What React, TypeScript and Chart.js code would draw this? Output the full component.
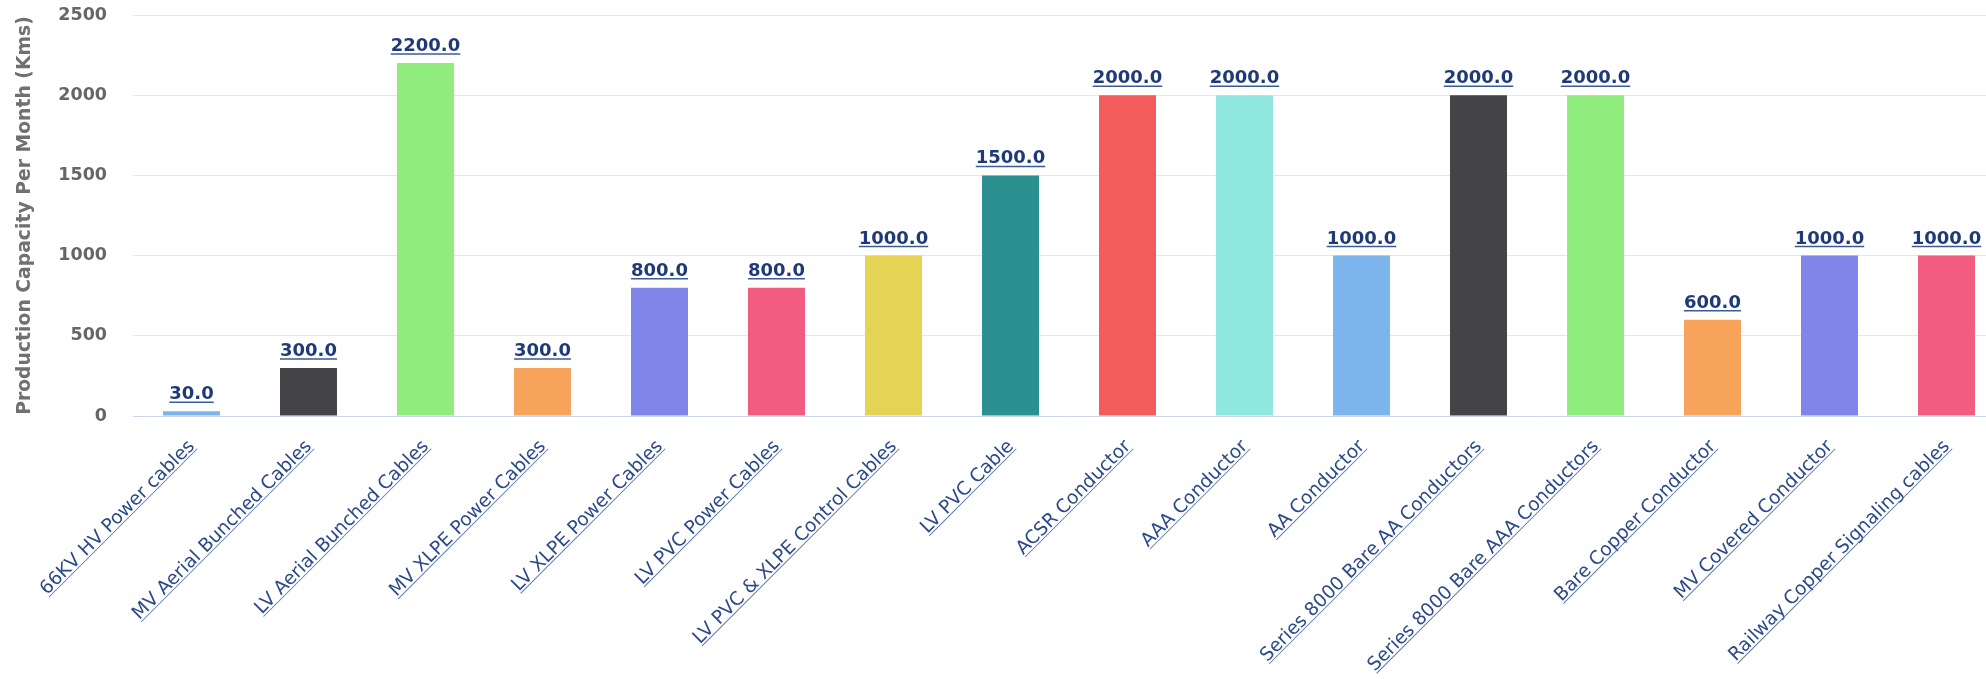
import React, { useEffect, useRef } from "react";
import { Chart, registerables } from "chart.js";

Chart.register(...registerables);

const categories = [
  "66KV HV Power cables",
  "MV Aerial Bunched Cables",
  "LV Aerial Bunched Cables",
  "MV XLPE Power Cables",
  "LV XLPE Power Cables",
  "LV PVC Power Cables",
  "LV PVC & XLPE Control Cables",
  "LV PVC Cable",
  "ACSR Conductor",
  "AAA Conductor",
  "AA Conductor",
  "Series 8000 Bare AA Conductors",
  "Series 8000 Bare AAA Conductors",
  "Bare Copper Conductor",
  "MV Covered Conductor",
  "Railway Copper Signaling cables",
];

const capacities = [30, 300, 2200, 300, 800, 800, 1000, 1500, 2000, 2000, 1000, 2000, 2000, 600, 1000, 1000];

const barColors = [
  "#7cb5ec", "#434348", "#90ed7d", "#f7a35c", "#8085e9", "#f15c80", "#e4d354", "#2b908f",
  "#f45b5b", "#91e8e1", "#7cb5ec", "#434348", "#90ed7d", "#f7a35c", "#8085e9", "#f15c80",
];

const yMin = 0;
const yMax = 2500;
const yStep = 500;
const yTitle = "Production Capacity Per Month (Kms)";

const FONT = "'DejaVu Sans', Verdana, sans-serif";
const CANVAS_W = 2010;
const CANVAS_H = 679;

const dataLabelPlugin = {
  id: "dataLabels",
  afterDatasetsDraw(chart: any) {
    const ctx = chart.ctx;
    const meta = chart.getDatasetMeta(0);
    ctx.save();
    ctx.font = `bold 18px ${FONT}`;
    ctx.textAlign = "center";
    ctx.textBaseline = "alphabetic";
    meta.data.forEach((bar: any, i: number) => {
      const text = Number(chart.data.datasets[0].data[i]).toFixed(1);
      const w = ctx.measureText(text).width;
      const y = bar.y - 12;
      ctx.fillStyle = "#1f3a78";
      ctx.fillText(text, bar.x, y);
      ctx.strokeStyle = "#3a5a9a";
      ctx.lineWidth = 1.5;
      ctx.beginPath();
      ctx.moveTo(bar.x - w / 2, y + 3);
      ctx.lineTo(bar.x + w / 2, y + 3);
      ctx.stroke();
    });
    ctx.restore();
  },
};

const xLabelPlugin = {
  id: "xLabels",
  afterDraw(chart: any) {
    const ctx = chart.ctx;
    const xs = chart.scales.x;
    const bottom = chart.chartArea.bottom;
    ctx.save();
    ctx.font = `18.7px ${FONT}`;
    ctx.textAlign = "right";
    ctx.textBaseline = "alphabetic";
    (chart.data.labels as string[]).forEach((label, i) => {
      const x = xs.getPixelForTick(i);
      ctx.save();
      ctx.translate(x + 4, bottom + 31);
      ctx.rotate(-Math.PI / 4);
      ctx.fillStyle = "#2d4a88";
      ctx.fillText(label, 0, 0);
      const w = ctx.measureText(label).width;
      ctx.strokeStyle = "#5a78b0";
      ctx.lineWidth = 1;
      ctx.beginPath();
      ctx.moveTo(-w, 2.5);
      ctx.lineTo(0, 2.5);
      ctx.stroke();
      ctx.restore();
    });
    ctx.restore();
  },
};

export default function App() {
  const canvasRef = useRef<HTMLCanvasElement | null>(null);

  useEffect(() => {
    if (!canvasRef.current) return;
    const chart = new Chart(canvasRef.current, {
      type: "bar",
      data: {
        labels: categories,
        datasets: [
          {
            data: capacities,
            backgroundColor: barColors,
            borderWidth: 0,
            categoryPercentage: 1,
            barPercentage: 0.487,
          },
        ],
      },
      options: {
        animation: false,
        responsive: false,
        devicePixelRatio: 1,
        layout: { padding: { left: 0, right: CANVAS_W - 2005, top: 15, bottom: CANVAS_H - 416 } },
        plugins: {
          legend: { display: false },
          tooltip: { enabled: false },
          title: { display: false },
        },
        scales: {
          x: {
            type: "category",
            offset: true,
            grid: { display: false, drawTicks: false },
            border: { display: true, color: "#ccd6eb", width: 1 },
            ticks: { display: false },
          },
          y: {
            min: yMin,
            max: yMax,
            afterFit(scale: any) {
              scale.width = 133;
            },
            ticks: {
              stepSize: yStep,
              padding: 0,
              color: "#666666",
              font: { family: FONT, size: 17.5, weight: "bold" },
              callback: (v: any) => String(v),
            },
            grid: {
              color: "#e6e6e6",
              drawTicks: true,
              tickLength: 26,
              tickColor: "rgba(0,0,0,0)",
              lineWidth: 1,
            },
            border: { display: false },
            title: {
              display: true,
              text: yTitle,
              color: "#707070",
              font: { family: FONT, size: 18.8, weight: "bold" },
              padding: { top: 14, bottom: 0 },
            },
          },
        },
      },
      plugins: [dataLabelPlugin, xLabelPlugin],
    });
    return () => chart.destroy();
  }, []);

  return (
    <div
      style={{
        position: "fixed",
        left: 0,
        top: 0,
        width: 1986,
        height: 679,
        overflow: "hidden",
        background: "#ffffff",
      }}
    >
      <canvas
        ref={canvasRef}
        width={CANVAS_W}
        height={CANVAS_H}
        style={{ width: CANVAS_W, height: CANVAS_H, display: "block" }}
      />
    </div>
  );
}
